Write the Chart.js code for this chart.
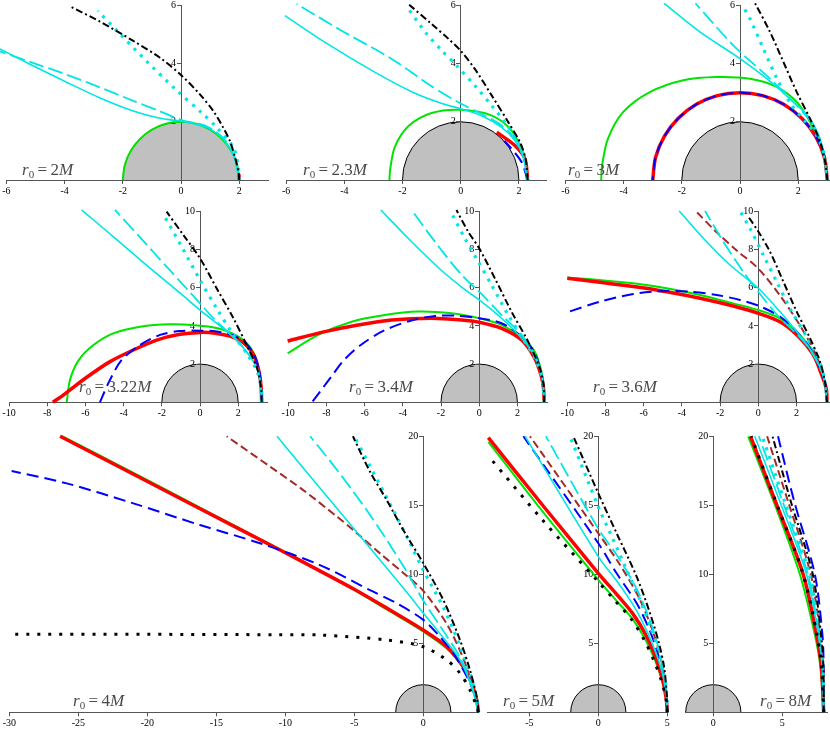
<!DOCTYPE html>
<html>
<head>
<meta charset="utf-8">
<script src="https://cdn.jsdelivr.net/npm/chart.js@4.4.1/dist/chart.umd.min.js"></script>
<style>
  body { margin: 0; width: 830px; height: 731px; position: relative; overflow: hidden; background: #fff; }
  canvas { position: absolute; }
  .lbl { position: absolute; font-family: 'Liberation Serif', serif; font-size: 17px; line-height: 17px; color: #4a4a4a; white-space: nowrap; }
  .lbl sub { font-size: 11px; vertical-align: -3px; line-height: 0; }
</style>
</head>
<body>
<script>
// horizon radius (units of M)
const horizonR = 2;

// --- r0 = 2M ---
const r2_green = [[2,0],[1.93,0.52],[1.73,1],[1.41,1.41],[1,1.73],[0.52,1.93],[0,2],[-0.52,1.93],[-1,1.73],[-1.41,1.41],[-1.73,1],[-1.93,0.52],[-2,0]];
const r2_red = [[2,0],[1.99,0.2]];
const r2_dashdot = [[2,0],[1.98,0.25],[1.86,0.77],[1.68,1.34],[1.45,1.8],[1.11,2.37],[0.65,2.94],[0,3.61],[-0.72,4.2],[-1.64,4.78],[-2.78,5.44],[-3.78,5.95]];
const r2_cyanDot = [[2,0],[1.97,0.45],[1.8,1.11],[1.23,1.8],[0.71,2.31],[-0.15,3.08],[-1.21,4.11],[-2.27,5.2],[-2.86,5.81]];
const r2_cyanDash = [[2,0],[1.98,0.14],[1.8,0.88],[1.47,1.42],[0.9,1.84],[0.02,2.06],[-0.72,2.36],[-1.64,2.72],[-2.78,3.18],[-3.93,3.62],[-5.19,4.06],[-6.22,4.42]];
const r2_cyanSolid = [[2,0],[1.98,0.14],[1.8,0.86],[1.45,1.4],[0.9,1.8],[0,2.02],[-0.72,2.12],[-1.64,2.37],[-2.78,2.82],[-3.93,3.36],[-5.19,3.98],[-6.22,4.5]];

// --- r0 = 2.3M ---
const r23_green = [[2.3,0],[2.25,0.5],[2.15,0.95],[1.75,1.7],[1.07,2.21],[0,2.41],[-1,2.3],[-1.8,1.85],[-2.26,1.15],[-2.42,0.4],[-2.45,0]];
const r23_red = [[2.3,0],[2.21,0.72],[1.87,1.18],[1.24,1.64]];
const r23_blue = [[2.3,0],[2.1,0.6],[1.75,1.07],[1.5,1.35]];
const r23_dashdot = [[2.3,0],[2.23,0.72],[2.04,1.29],[1.64,1.98],[1.07,2.9],[0.49,3.81],[0,4.44],[-0.42,4.85],[-1,5.36],[-1.8,6.05]];
const r23_cyanDot = [[2.3,0],[2.15,0.84],[1.92,1.41],[1.52,1.98],[1.07,2.55],[0.49,3.24],[-0.14,3.93],[-0.65,4.45],[-1.23,5.1],[-1.86,5.97]];
const r23_cyanDash = [[2.3,0],[2.15,0.84],[1.87,1.41],[1.41,1.87],[0.72,2.27],[0.03,2.61],[-1,3.22],[-2.37,4.16],[-4.09,5.13],[-5.64,6.05]];
const r23_cyanSolid = [[2.3,0],[2.15,0.78],[1.87,1.35],[1.41,1.81],[0.72,2.21],[0.03,2.44],[-0.65,2.63],[-1.57,2.98],[-2.94,3.7],[-4.66,4.73],[-6.04,5.65]];

// --- r0 = 3M ---
const r3_red = [[3,0],[2.9,0.78],[2.6,1.5],[2.12,2.12],[1.5,2.6],[0.78,2.9],[0,3],[-0.78,2.9],[-1.5,2.6],[-2.12,2.12],[-2.6,1.5],[-2.9,0.78],[-3,0]];
const r3_blue = r3_red;
const r3_green = [[3,0],[2.8,1.18],[2.41,1.99],[1.95,2.68],[1.26,3.2],[0.34,3.48],[-0.8,3.54],[-1.95,3.43],[-3.1,3.02],[-4.02,2.33],[-4.54,1.41],[-4.74,0.49],[-4.77,0]];
const r3_dashdot = [[3,0],[2.93,0.61],[2.76,1.3],[2.41,2.1],[1.95,3.02],[1.49,4.06],[1.03,5.09],[0.52,6.07]];
const r3_cyanDot = [[3,0],[2.87,0.95],[2.62,1.55],[2.25,2],[1.72,2.65],[1.26,3.5],[0.8,4.52],[0.34,5.55],[0.11,5.95]];
const r3_cyanDash = [[3,0],[2.82,1.18],[2.53,1.87],[1.95,2.56],[1.03,3.48],[-0.23,4.63],[-1.53,6.07]];
const r3_cyanSolid = [[3,0],[2.82,1.18],[2.41,2.1],[1.72,2.79],[0.92,3.48],[0,4.17],[-1.38,5.09],[-2.61,6.07]];

// --- r0 = 3.22M ---
const r322_green = [[3.23,0],[3.2,0.8],[3.1,1.65],[2.85,2.5],[2.35,3.2],[1.6,3.65],[0.8,3.9],[0,4.01],[-1.57,4.08],[-3.14,3.96],[-4.54,3.61],[-5.58,3],[-6.34,2.22],[-6.8,1.2],[-6.98,0]];
const r322_red = [[3.23,0],[3.2,0.8],[3.08,1.65],[2.8,2.5],[2.3,3.1],[1.6,3.45],[0.8,3.62],[0,3.66],[-1.05,3.56],[-2.27,3.26],[-3.49,2.74],[-4.71,2.13],[-5.93,1.31],[-7.16,0.38],[-7.7,0]];
const r322_blue = [[3.23,0],[3.2,0.8],[3.1,1.65],[2.83,2.5],[2.3,3.2],[1.6,3.55],[0.8,3.72],[0,3.75],[-1.05,3.73],[-2.09,3.53],[-3.14,3],[-4.1,2.22],[-4.75,1.1],[-5.24,0]];
const r322_dashdot = [[3.23,0],[3.2,0.73],[2.99,1.78],[2.44,3],[1.75,4.4],[0.87,5.97],[0,7.54],[-0.87,8.76],[-1.75,9.98]];
const r322_cyanDot = [[3.23,0],[3.2,0.73],[2.99,1.61],[2.44,2.57],[1.75,3.53],[0.87,4.92],[0,6.4],[-0.96,8.15],[-1.88,9.77]];
const r322_cyanDash = [[3.23,0],[3.2,0.73],[2.99,1.78],[2.44,2.65],[1.75,3.44],[0.87,4.22],[0,5.18],[-0.7,5.95],[-1.75,7.1],[-3.14,8.64],[-4.45,10.07]];
const r322_cyanSolid = [[3.23,0],[3.2,0.73],[2.99,1.78],[2.44,2.65],[1.75,3.4],[0.87,4.14],[0,4.83],[-0.87,5.57],[-2.62,7.03],[-4.36,8.52],[-6.2,10.07]];

// --- r0 = 3.4M ---
const r34_green = [[3.4,0],[3.38,0.7],[3.26,1.61],[2.91,2.65],[2.22,3.4],[1.17,4.05],[0,4.4],[-1.45,4.66],[-3.19,4.75],[-4.94,4.57],[-6.68,4.22],[-8.43,3.53],[-10.03,2.57]];
const r34_red = [[3.4,0],[3.37,0.7],[3.26,1.34],[2.91,2.3],[2.22,3.26],[1.17,3.87],[0,4.19],[-0.92,4.31],[-2.5,4.4],[-4.59,4.31],[-6.34,4.05],[-8.08,3.7],[-10.03,3.21]];
const r34_blue = [[3.4,0],[3.38,0.7],[3.26,1.43],[2.91,2.57],[2.22,3.44],[1.17,4.14],[0,4.4],[-1.27,4.54],[-2.3,4.52],[-3.5,4.3],[-5,3.75],[-6.2,3],[-7.09,2.2],[-7.7,1.4],[-8.3,0.6],[-8.76,0]];
const r34_dashdot = [[3.4,0],[3.37,0.91],[3.18,1.78],[2.56,3.18],[1.69,4.75],[0.82,6.49],[0,8.06],[-0.58,8.94],[-1.19,10.07]];
const r34_cyanDot = [[3.4,0],[3.3,1.2],[2.95,2.25],[2.39,3.18],[1.52,4.57],[0.65,6.14],[-0.05,7.36],[-0.75,8.59],[-1.45,9.9]];
const r34_cyanDash = [[3.4,0],[3.3,1.3],[2.91,2.48],[2.22,3.53],[1.17,4.57],[0,5.79],[-0.92,6.67],[-2.32,8.41],[-3.54,10.07]];
const r34_cyanSolid = [[3.4,0],[3.3,1.3],[2.91,2.39],[2.22,3.35],[1.17,4.4],[0,5.36],[-0.75,5.9],[-1.97,6.9],[-3.72,8.59],[-5.15,10.07]];

// --- r0 = 3.6M ---
const r36_green = [[3.6,0],[3.57,0.7],[3.32,1.61],[2.88,2.65],[2.01,3.7],[1.13,4.4],[0,4.83],[-1.31,5.18],[-3.05,5.62],[-4.8,5.97],[-6.54,6.23],[-8.29,6.4],[-10,6.53]];
const r36_red = [[3.6,0],[3.56,0.7],[3.32,1.43],[2.88,2.48],[2.01,3.53],[1.13,4.22],[0,4.66],[-1.31,5.04],[-3.05,5.45],[-4.8,5.79],[-6.54,6.06],[-8.29,6.28],[-10,6.49]];
const r36_blue = [[3.6,0],[3.57,0.7],[3.32,1.52],[2.88,2.57],[2.01,3.7],[1.13,4.49],[0,5.06],[-0.96,5.36],[-2.18,5.62],[-3.58,5.79],[-4.97,5.83],[-6.54,5.67],[-8.29,5.27],[-10,4.71]];
const r36_brown = [[3.6,0],[3.45,1.2],[3.1,2.3],[2.6,3.3],[2.01,4.3],[1.13,5.6],[0,7],[-1.13,7.95],[-2.18,8.9],[-3.28,10.02]];
const r36_dashdot = [[3.6,0],[3.49,1.08],[3.23,2.13],[2.71,3.35],[2.01,4.75],[1.31,6.32],[0.61,7.89],[0,8.94],[-0.52,9.72]];
const r36_cyanDot = [[3.6,0],[3.45,1.3],[3.1,2.4],[2.6,3.3],[1.66,4.92],[0.96,6.32],[0.26,7.71],[-0.44,9.11],[-0.96,10.02]];
const r36_cyanDash = [[3.6,0],[3.45,1.2],[3.1,2.1],[2.53,3],[1.83,3.75],[0.96,4.6],[0,5.79],[-0.79,6.84],[-1.83,8.41],[-2.79,10.02]];
const r36_cyanSolid = [[3.6,0],[3.45,1.2],[3.1,2.1],[2.6,2.95],[2.01,3.7],[1.13,4.75],[0,5.97],[-1.48,7.19],[-2.88,8.59],[-4.14,10.02]];

// --- r0 = 4M ---
const r4_green = [[4,0],[3.87,0.85],[3.5,2],[2.9,3.2],[1.7,4.62],[0,5.85],[-2.65,7.45],[-5.07,8.9],[-7.5,10.25],[-10.38,11.8],[-16.18,14.83],[-21,17.35],[-26.25,20.05]];
const r4_red = [[4,0],[3.87,0.89],[3.5,2.1],[2.9,3.3],[1.7,4.75],[0,5.96],[-2.65,7.55],[-5.07,8.95],[-7.5,10.25],[-10.38,11.76],[-16.18,14.75],[-21,17.25],[-26.32,20]];
const r4_blue = [[4,0],[3.87,0.65],[3.5,1.86],[2.9,3.07],[2.17,4.28],[1.21,5.48],[0,6.7],[-1.93,7.9],[-3.86,8.85],[-7.49,10.67],[-11.83,12.25],[-16.18,13.57],[-21.01,15.14],[-25.84,16.59],[-29.83,17.49]];
const r4_brown = [[4,0],[3.62,1.7],[2.9,3.9],[1.7,6.4],[0,8.8],[-1.45,10.1],[-3,11.4],[-4.95,13.1],[-6.28,14.2],[-8.7,16.1],[-11.1,17.8],[-14.25,20]];
const r4_cyanSolid = [[4,0],[3.5,1.86],[2.66,3.79],[1.45,5.4],[0,7.2],[-1.45,9],[-3.86,11.9],[-6.28,14.8],[-8.7,17.7],[-10.6,20]];
const r4_cyanDash = [[4,0],[3.5,2],[2.66,4],[1.45,5.9],[0,8.1],[-1.45,10.6],[-3.86,14.3],[-6.28,17.6],[-8.2,20]];
const r4_cyanDot = [[4,0],[3.87,1],[3.38,2.8],[2.66,4.8],[1.45,7.6],[0,10.3],[-0.96,12.25],[-1.93,14.17],[-3.14,16.47],[-5,20]];
const r4_dashdot = [[4,0],[3.87,1.13],[3.38,3.07],[2.66,5.24],[1.45,8.14],[0,10.8],[-1.45,13.21],[-2.65,15.38],[-3.86,17.43],[-5.1,20]];
const r4_blackDot = [[4,0],[3.87,0.41],[3.38,1.62],[2.66,2.83],[1.7,3.79],[0,4.75],[-2.65,5.24],[-7.49,5.6],[-10.6,5.62],[-20,5.65],[-30,5.65]];

// --- r0 = 5M ---
const r5_green = [[5,0],[4.92,1],[4.62,2.3],[4.1,3.8],[3.4,5.3],[2.45,6.8],[1.3,8.1],[0,9.6],[-4,14.5],[-7.97,19.6]];
const r5_red = [[5,0],[4.92,1],[4.65,2.4],[4.15,4],[3.45,5.6],[2.5,7.15],[1.33,8.55],[0,10.07],[-3.99,14.95],[-7.97,19.9]];
const r5_blue = [[5,0],[4.93,1.2],[4.7,2.8],[4.3,4.3],[3.7,6],[2.78,7.9],[1.33,10.07],[0,12.25],[-5.43,20]];
const r5_brown = [[5,0],[4.94,1.3],[4.72,3],[4.35,4.6],[3.8,6.3],[2.9,8.4],[1.5,10.8],[0,12.97],[-4.95,20]];
const r5_cyanSolid = [[5,0],[4.93,1.2],[4.68,2.7],[4.25,4.1],[3.6,5.7],[2.7,7.5],[1.5,9.3],[0,11.28],[-5.3,20]];
const r5_cyanDash = [[5,0],[4.94,1.3],[4.72,3],[4.35,4.7],[3.8,6.5],[2.8,8.9],[1.4,11.3],[0,13.3],[-3.8,20]];
const r5_cyanDot = [[5,0],[4.95,1.2],[4.75,2.8],[4.35,4.6],[3.87,5.9],[3.02,8.14],[2.06,10.31],[1.09,12.49],[0,14.9],[-2.05,20]];
const r5_dashdot = [[5,0],[4.96,1.3],[4.78,3.2],[4.4,5],[3.75,7.17],[2.78,9.83],[1.33,12.97],[0,15.87],[-1.81,20]];
const r5_blackDot = [[5,0],[4.92,0.9],[4.6,2.2],[4.05,3.7],[3.35,5.2],[2.4,6.75],[1.3,8],[0,9.46],[-4.1,14],[-7.9,18.5]];

// --- r0 = 8M ---
const r8_green = [[8,0],[7.76,3.29],[7.34,5.7],[6.26,10.04],[4.35,15.33],[2.53,20]];
const r8_red = [[8,0],[7.83,3.29],[7.47,5.7],[6.5,10.04],[4.48,15.33],[2.7,20]];
const r8_blue = [[8,0],[8,3.29],[7.9,5.7],[7.35,10.04],[5.85,15.33],[4.69,20]];
const r8_brown = [[8,0],[7.96,3.29],[7.75,5.7],[7.05,10.04],[5.4,15.33],[3.9,20]];
const r8_cyanSolid = [[8,0],[7.9,3.29],[7.6,5.7],[6.74,10.04],[4.8,15.33],[3,20]];
const r8_cyanDash = [[8,0],[7.92,3.29],[7.65,5.7],[6.84,10.04],[5,15.33],[3.3,20]];
const r8_cyanDot = [[8,0],[7.94,3.29],[7.7,5.7],[6.95,10.04],[5.15,15.33],[3.55,20]];
const r8_dashdot = [[8,0],[7.98,3.29],[7.8,5.7],[7.2,10.04],[5.6,15.33],[4.29,20]];
const r8_blackDot = [[8,0],[7.85,3.29],[7.5,5.7],[6.5,10.04],[4.5,15.33],[2.75,20]];

const styleOf = {
  green:     { borderColor: '#00e400', borderWidth: 2 },
  red:       { borderColor: '#ff0000', borderWidth: 3.5 },
  blue:      { borderColor: '#0000ff', borderWidth: 2, borderDash: [12, 6] },
  brown:     { borderColor: '#a52a2a', borderWidth: 2, borderDash: [8, 4] },
  cyanSolid: { borderColor: '#00e6e6', borderWidth: 1.6 },
  cyanDash:  { borderColor: '#00e6e6', borderWidth: 1.8, borderDash: [15, 5] },
  cyanDot:   { borderColor: '#00e6e6', borderWidth: 3.2, borderDash: [3, 6] },
  dashdot:   { borderColor: '#000000', borderWidth: 2, borderDash: [7, 3, 2, 3] },
  blackDot:  { borderColor: '#000000', borderWidth: 3, borderDash: [3, 8] }
};
const drawOrder = ['green', 'red', 'blue', 'brown', 'cyanSolid', 'cyanDash', 'cyanDot', 'dashdot', 'blackDot'];

const panels = [
  { r0: '2',    x0: 181,   y0: 180,   u: 29.1, xmin: -6,    xmax: 3,    ymax: 6,  xStep: 2, yStep: 2, lx: 22,  ly: 175,
    curves: { green: r2_green, red: r2_red, cyanSolid: r2_cyanSolid, cyanDash: r2_cyanDash, cyanDot: r2_cyanDot, dashdot: r2_dashdot } },
  { r0: '2.3',  x0: 460.7, y0: 180,   u: 29.1, xmin: -6,    xmax: 2.95, ymax: 6,  xStep: 2, yStep: 2, lx: 303, ly: 175,
    curves: { green: r23_green, red: r23_red, blue: r23_blue, cyanSolid: r23_cyanSolid, cyanDash: r23_cyanDash, cyanDot: r23_cyanDot, dashdot: r23_dashdot } },
  { r0: '3',    x0: 740,   y0: 180,   u: 29.1, xmin: -6,    xmax: 3.1,  ymax: 6,  xStep: 2, yStep: 2, lx: 568, ly: 175,
    curves: { green: r3_green, red: r3_red, blue: r3_blue, cyanSolid: r3_cyanSolid, cyanDash: r3_cyanDash, cyanDot: r3_cyanDot, dashdot: r3_dashdot } },
  { r0: '3.22', x0: 200,   y0: 402.3, u: 19.1, xmin: -10,   xmax: 3.55, ymax: 10, xStep: 2, yStep: 2, lx: 79,  ly: 392,
    curves: { green: r322_green, red: r322_red, blue: r322_blue, cyanSolid: r322_cyanSolid, cyanDash: r322_cyanDash, cyanDot: r322_cyanDot, dashdot: r322_dashdot } },
  { r0: '3.4',  x0: 479.2, y0: 402.3, u: 19.1, xmin: -10,   xmax: 3.6,  ymax: 10, xStep: 2, yStep: 2, lx: 349, ly: 392,
    curves: { green: r34_green, red: r34_red, blue: r34_blue, cyanSolid: r34_cyanSolid, cyanDash: r34_cyanDash, cyanDot: r34_cyanDot, dashdot: r34_dashdot } },
  { r0: '3.6',  x0: 758.3, y0: 402.3, u: 19.1, xmin: -10,   xmax: 3.75, ymax: 10, xStep: 2, yStep: 2, lx: 593, ly: 392,
    curves: { green: r36_green, red: r36_red, blue: r36_blue, brown: r36_brown, cyanSolid: r36_cyanSolid, cyanDash: r36_cyanDash, cyanDot: r36_cyanDot, dashdot: r36_dashdot } },
  { r0: '4',    x0: 423.3, y0: 712.3, u: 13.8, xmin: -30,   xmax: 4,    ymax: 20, xStep: 5, yStep: 5, lx: 73,  ly: 706,
    curves: { green: r4_green, red: r4_red, blue: r4_blue, brown: r4_brown, cyanSolid: r4_cyanSolid, cyanDash: r4_cyanDash, cyanDot: r4_cyanDot, dashdot: r4_dashdot, blackDot: r4_blackDot } },
  { r0: '5',    x0: 598.3, y0: 712.3, u: 13.8, xmin: -8,    xmax: 5.05, ymax: 20, xStep: 5, yStep: 5, lx: 503, ly: 706,
    curves: { green: r5_green, red: r5_red, blue: r5_blue, brown: r5_brown, cyanSolid: r5_cyanSolid, cyanDash: r5_cyanDash, cyanDot: r5_cyanDot, dashdot: r5_dashdot, blackDot: r5_blackDot } },
  { r0: '8',    x0: 713.3, y0: 712.3, u: 13.8, xmin: -2.05, xmax: 8.3,  ymax: 20, xStep: 5, yStep: 5, lx: 760, ly: 706,
    curves: { green: r8_green, red: r8_red, blue: r8_blue, brown: r8_brown, cyanSolid: r8_cyanSolid, cyanDash: r8_cyanDash, cyanDot: r8_cyanDot, dashdot: r8_dashdot, blackDot: r8_blackDot } }
];

// grey half disk of the horizon, drawn under the axes
const horizon = {
  id: 'horizon',
  beforeDraw(chart) {
    const { ctx, scales: { x, y } } = chart;
    const cx = x.getPixelForValue(0), cy = y.getPixelForValue(0);
    const r = x.getPixelForValue(horizonR) - cx;
    ctx.save();
    ctx.beginPath();
    ctx.arc(cx, cy, r, Math.PI, 2 * Math.PI);
    ctx.fillStyle = '#c0c0c0';
    ctx.fill();
    ctx.strokeStyle = '#000';
    ctx.lineWidth = 1;
    ctx.stroke();
    ctx.restore();
  }
};

Chart.defaults.font.family = "'Liberation Serif', serif";
Chart.defaults.font.size = 10;
Chart.defaults.color = '#000';

function makePanel(p) {
  const axisH = 22;
  const areaL = p.x0 + p.xmin * p.u, areaR = p.x0 + p.xmax * p.u;
  const areaT = p.y0 - p.ymax * p.u, areaB = p.y0;
  const left = Math.floor(areaL) - 12, top = Math.floor(areaT) - 8;
  const W = Math.ceil(areaR + 8) - left, H = Math.ceil(areaB + axisH + 1) - top;

  const cv = document.createElement('canvas');
  cv.width = W; cv.height = H;
  cv.style.left = left + 'px'; cv.style.top = top + 'px';
  document.body.appendChild(cv);

  const keys = drawOrder.filter(k => p.curves[k]);
  const datasets = keys.map((k, i) => Object.assign({
    data: p.curves[k].map(([x, y]) => ({ x, y })),
    showLine: true, pointRadius: 0, tension: 0.3, fill: false,
    borderJoinStyle: 'round',
    order: keys.length - i,
    clip: { left: 8, top: 3, right: 3, bottom: 2 }
  }, styleOf[k]));

  new Chart(cv, {
    type: 'scatter',
    data: { datasets },
    options: {
      responsive: false, animation: false, devicePixelRatio: 1,
      layout: { padding: { left: areaL - left, right: W - (areaR - left), top: areaT - top, bottom: H - (areaB - top) - axisH } },
      plugins: { legend: { display: false }, tooltip: { enabled: false } },
      events: [],
      scales: {
        x: {
          type: 'linear', position: 'bottom', min: p.xmin, max: p.xmax,
          ticks: { stepSize: p.xStep, includeBounds: false, autoSkip: false, maxRotation: 0, padding: 1 },
          grid: { drawOnChartArea: false, tickLength: 4, color: '#555' },
          border: { color: '#555' },
          afterFit: s => { s.height = axisH; }
        },
        y: {
          type: 'linear', position: { x: 0 }, min: 0, max: p.ymax,
          ticks: { stepSize: p.yStep, autoSkip: false, padding: 1, callback: v => v === 0 ? '' : v + '\u2002' },
          grid: { drawOnChartArea: false, tickLength: 4, color: '#555' },
          border: { color: '#555' },
          afterFit: s => { s.width = 0; }
        }
      }
    },
    plugins: [horizon]
  });

  const lbl = document.createElement('div');
  lbl.className = 'lbl';
  lbl.innerHTML = '<i>r</i><sub>0</sub>&#8201;=&#8201;' + p.r0 + '<i>M</i>';
  lbl.style.left = p.lx + 'px';
  lbl.style.top = (p.ly - 14) + 'px';
  document.body.appendChild(lbl);
}

panels.forEach(makePanel);
</script>
</body>
</html>
